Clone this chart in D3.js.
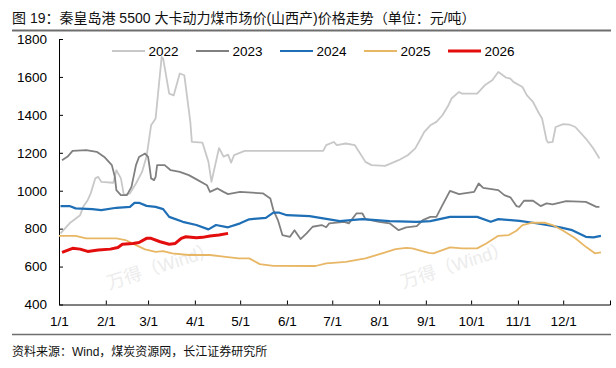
<!DOCTYPE html>
<html><head><meta charset="utf-8">
<script src="https://cdn.jsdelivr.net/npm/d3@7"></script>
<style>
html,body{margin:0;padding:0;background:#fff;}
svg{display:block;font-family:Arial,"Liberation Sans","Noto Sans CJK SC",sans-serif;}
</style></head><body>
<svg id="c" width="616" height="368"></svg>
<script>
// ---- data ----
const titleText = "图 19：秦皇岛港 5500 大卡动力煤市场价(山西产)价格走势（单位：元/吨）";
const sourceText = "资料来源：Wind，煤炭资源网，长江证券研究所";
const watermarkText = "万得（Wind）";
const monthTicks = ["01-01","02-01","03-01","04-01","05-01","06-01","07-01","08-01","09-01","10-01","11-01","12-01"];
const xLabels = ["1/1","2/1","3/1","4/1","5/1","6/1","7/1","8/1","9/1","10/1","11/1","12/1"];
const yTicks = [400,600,800,1000,1200,1400,1600,1800];
const years = ["2022","2023","2024","2025","2026"];
const colors = ["#c8c8c8","#808080","#1f6fb6","#e8b766","#e30d0d"];

const s2022 = [["01-02",775],["01-08",828],["01-15",871],["01-17",915],["01-20",950],["01-22",986],["01-25",1065],["01-27",1073],["01-29",1047],["02-06",1042],["02-08",1108],["02-11",1065],["02-13",977],["02-17",986],["02-21",1038],["02-25",1099],["02-28",1180],["03-03",1345],["03-06",1381],["03-10",1705],["03-11",1697],["03-15",1512],["03-18",1503],["03-22",1618],["03-25",1609],["03-29",1363],["03-30",1257],["04-06",1254],["04-10",1152],["04-12",1047],["04-17",1225],["04-20",1180],["04-23",1190],["04-25",1148],["04-27",1188],["05-04",1210],["06-25",1210],["06-27",1240],["07-02",1257],["07-04",1240],["07-10",1249],["07-16",1240],["07-23",1152],["07-27",1135],["08-05",1131],["08-14",1161],["08-20",1187],["08-25",1223],["08-28",1266],["08-31",1310],["09-04",1345],["09-08",1363],["09-12",1398],["09-16",1451],["09-18",1486],["09-23",1521],["09-25",1512],["10-05",1512],["10-10",1556],["10-15",1582],["10-19",1626],["10-20",1621],["10-24",1597],["10-27",1591],["10-29",1574],["11-04",1547],["11-07",1503],["11-11",1468],["11-15",1407],["11-17",1381],["11-20",1266],["11-21",1254],["11-24",1257],["11-26",1336],["12-01",1351],["12-05",1349],["12-09",1336],["12-16",1275],["12-21",1223],["12-25",1170]];

const s2023 = [["01-03",1161],["01-07",1182],["01-10",1210],["01-19",1214],["01-26",1205],["01-31",1178],["02-05",1135],["02-07",1073],["02-08",1003],["02-11",977],["02-15",977],["02-18",1020],["02-21",1135],["02-23",1178],["02-27",1196],["03-01",1178],["03-02",1126],["03-03",1065],["03-05",1056],["03-06",1073],["03-07",1135],["03-12",1135],["03-16",1108],["03-22",1099],["03-28",1082],["04-03",1056],["04-09",1029],["04-11",994],["04-16",1012],["04-20",994],["04-23",982],["05-01",994],["05-16",986],["05-21",959],["05-23",898],["05-26",845],["05-29",766],["06-03",757],["06-06",792],["06-10",745],["06-14",775],["06-18",810],["06-24",819],["06-27",807],["06-29",828],["07-09",836],["07-12",828],["07-17",880],["07-21",880],["07-23",850],["08-01",836],["08-08",828],["08-14",792],["08-19",807],["08-26",813],["08-30",845],["09-04",862],["09-08",862],["09-12",924],["09-17",999],["09-23",982],["10-03",994],["10-06",1038],["10-09",1015],["10-19",1003],["10-23",977],["10-27",965],["10-31",919],["11-02",915],["11-05",947],["11-11",947],["11-16",919],["11-20",933],["11-24",928],["12-03",945],["12-16",941],["12-23",915],["12-25",915]];

const s2024 = [["01-02",919],["01-08",919],["01-12",907],["01-23",903],["01-29",898],["02-08",910],["02-17",915],["02-20",936],["02-23",936],["02-28",920],["03-06",915],["03-11",903],["03-15",862],["03-24",836],["04-02",819],["04-10",796],["04-15",819],["04-23",807],["05-01",828],["05-07",849],["05-18",857],["05-23",884],["05-27",884],["06-01",871],["06-16",866],["06-25",854],["07-06",840],["07-21",850],["08-08",840],["08-26",836],["09-04",840],["09-17",862],["10-05",862],["10-14",836],["10-19",850],["11-02",841],["11-11",831],["11-20",819],["11-29",807],["12-07",792],["12-16",757],["12-21",754],["12-26",762]];

const s2025 = [["01-01",762],["01-12",762],["01-19",749],["02-08",749],["02-14",740],["02-21",713],["02-27",691],["03-06",678],["03-11",682],["03-17",670],["03-28",661],["04-11",661],["04-20",652],["04-30",643],["05-07",643],["05-14",613],["05-23",604],["06-20",603],["06-27",617],["07-10",625],["07-23",643],["08-03",670],["08-12",692],["08-19",699],["08-23",696],["08-29",683],["09-03",672],["09-06",670],["09-17",701],["09-25",696],["10-05",696],["10-11",722],["10-19",762],["10-26",766],["10-31",789],["11-04",819],["11-10",831],["11-19",831],["11-24",819],["12-01",789],["12-09",749],["12-16",704],["12-22",670],["12-26",675]];

const s2026 = [["01-03",675],["01-10",696],["01-15",692],["01-20",680],["01-27",687],["02-04",692],["02-09",701],["02-12",718],["02-19",722],["02-23",727],["02-28",749],["03-03",749],["03-09",731],["03-15",718],["03-19",722],["03-23",749],["03-26",757],["04-02",752],["04-06",754],["04-11",761],["04-17",766],["04-23",775]];

const seriesList = [s2022, s2023, s2024, s2025, s2026];
const widths = [1.8, 1.8, 2.2, 1.8, 3];

// ---- drawing ----
const parse = d3.timeParse("%m-%d");
const svg = d3.select("#c");

const x = d3.scaleTime().domain([parse("01-01"), d3.timeYear.offset(parse("01-01"), 1)]).range([59, 610]);
const y = d3.scaleLinear().domain([400, 1800]).range([304.5, 39]);

// title
svg.append("text").attr("x", 12).attr("y", 23).attr("font-size", 14).attr("fill", "#111").text(titleText);
svg.append("line").attr("x1", 12).attr("x2", 611).attr("y1", 30.5).attr("y2", 30.5).attr("stroke", "#6e6e6e").attr("stroke-width", 2);

// watermarks
[[161, 266], [455, 265]].forEach(p => {
  svg.append("text").attr("transform", `translate(${p[0]},${p[1]}) rotate(-18)`)
    .attr("text-anchor", "middle").attr("dy", "0.35em").attr("font-size", 18)
    .attr("fill", "#ececec").text(watermarkText);
});

// axes
const yAxis = d3.axisLeft(y).tickValues(yTicks).tickFormat(d3.format("d"))
  .tickSize(-4).tickSizeOuter(0).tickPadding(12);
const gy = svg.append("g").attr("transform", "translate(59,0)").call(yAxis);
gy.selectAll("text").attr("font-size", 13.5).attr("fill", "#000");
gy.selectAll("line,path").attr("stroke", "#000");

const xAxis = d3.axisBottom(x).tickValues(monthTicks.map(parse))
  .tickFormat((d, i) => xLabels[i]).tickSize(-4).tickSizeOuter(-4).tickPadding(12);
const gx = svg.append("g").attr("transform", "translate(0,304.5)").call(xAxis);
gx.selectAll("text").attr("font-size", 13.5).attr("fill", "#000");
gx.selectAll("line,path").attr("stroke", "#000");
svg.selectAll(".domain").attr("fill", "none");
svg.selectAll("g").attr("font-family", null);

// lines
const line = d3.line().x(d => x(parse(d[0]))).y(d => y(d[1]));
seriesList.forEach((s, i) => {
  svg.append("path").datum(s).attr("d", line).attr("fill", "none")
    .attr("stroke", colors[i]).attr("stroke-width", widths[i]).attr("stroke-linejoin", "round");
});

// legend
const lg = svg.append("g");
years.forEach((yr, i) => {
  const lx = 112 + i * 84;
  lg.append("line").attr("x1", lx).attr("x2", lx + 33).attr("y1", 51).attr("y2", 51)
    .attr("stroke", colors[i]).attr("stroke-width", i === 4 ? 3 : 2.2);
  lg.append("text").attr("x", lx + 36.5).attr("y", 51).attr("dy", "0.35em")
    .attr("font-size", 13.5).attr("fill", "#000").text(yr);
});

// bottom rule and source
svg.append("line").attr("x1", 12).attr("x2", 611).attr("y1", 334.5).attr("y2", 334.5).attr("stroke", "#6e6e6e").attr("stroke-width", 1.5);
svg.append("text").attr("x", 12).attr("y", 356).attr("font-size", 12).attr("fill", "#111").text(sourceText);
</script>
</body></html>
